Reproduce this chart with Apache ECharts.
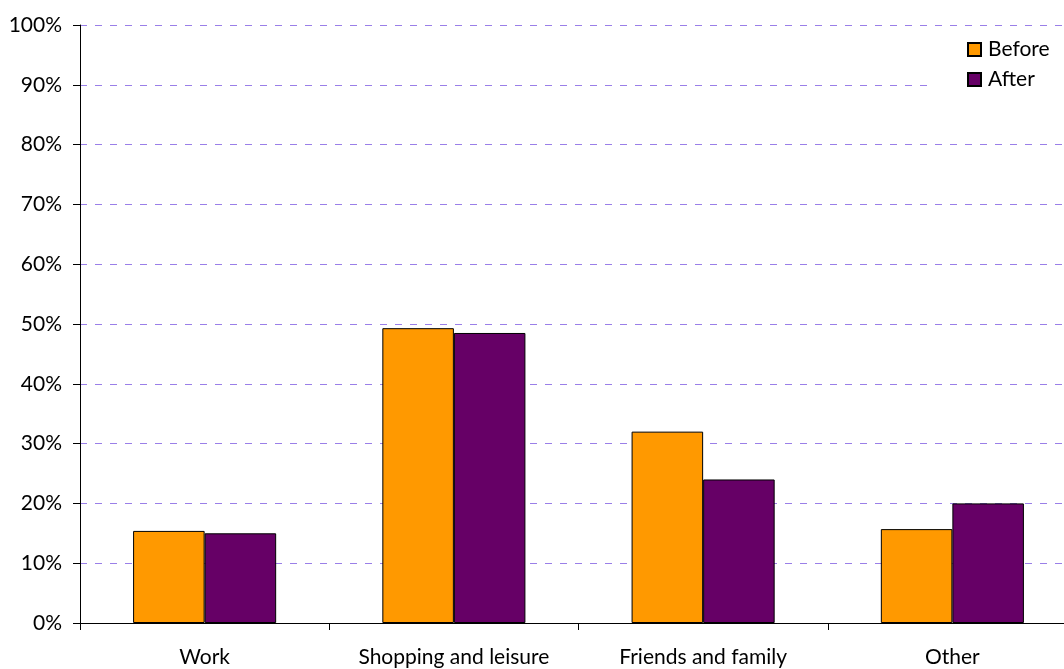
<!DOCTYPE html>
<html><head><meta charset="utf-8">
<script src="https://cdn.jsdelivr.net/npm/echarts@6/dist/echarts.min.js"></script>
<style>html,body{margin:0;padding:0;background:#fff;overflow:hidden}#c{width:1077px;height:669px}</style>
</head><body><div id="c"></div>
<script>
const categories = ['Work', 'Shopping and leisure', 'Friends and family', 'Other'];
const before = [15.4, 49.3, 32.0, 15.7];
const after = [15.0, 48.5, 24.0, 20.0];
const seriesNames = ['Before', 'After'];

const chart = echarts.init(document.getElementById('c'));
const font = 'Lato, "Open Sans", sans-serif';
chart.setOption({
  animation: false,
  backgroundColor: '#fff',
  grid: { left: 80, top: 25, right: 0, bottom: 46, containLabel: false },
  legend: {
    left: 928, top: 32, orient: 'vertical', itemWidth: 13, itemHeight: 13, itemGap: 9,
    backgroundColor: '#fff', padding: [7, 40, 6, 39],
    textStyle: { fontFamily: font, fontSize: 21, fontWeight: 400, color: '#000', padding: [0,0,0,2] },
    data: seriesNames.map(n => ({ name: n, icon: 'rect' }))
  },
  xAxis: {
    type: 'category', data: categories,
    axisLine: { lineStyle: { color: '#000', width: 1 } },
    axisTick: { show: true, length: 7, lineStyle: { color: '#000' } },
    axisLabel: { fontFamily: font, fontSize: 21, fontWeight: 400, color: '#000', margin: 24 }
  },
  yAxis: {
    type: 'value', min: 0, max: 100, interval: 10,
    axisLine: { show: true, lineStyle: { color: '#000' } },
    axisTick: { show: true, length: 7, lineStyle: { color: '#000' } },
    axisLabel: { fontFamily: font, fontSize: 21, fontWeight: 400, color: '#000', margin: 18, formatter: '{value}%' },
    splitLine: { lineStyle: { color: '#9a7fe8', type: [7, 8], width: 1 } }
  },
  series: [
    { name: seriesNames[0], type: 'bar', data: before, barGap: '0%', barCategoryGap: '42.6%',
      itemStyle: { color: '#ff9900', borderColor: '#000', borderWidth: 1 } },
    { name: seriesNames[1], type: 'bar', data: after,
      itemStyle: { color: '#660066', borderColor: '#000', borderWidth: 1 } }
  ]
});
</script></body></html>
